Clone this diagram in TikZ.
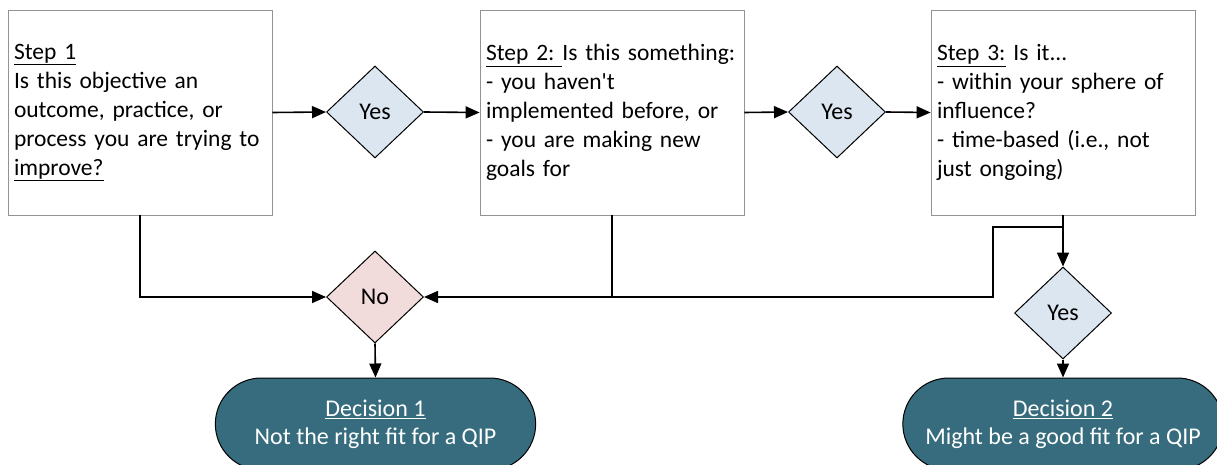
\documentclass[tikz,border=0pt]{standalone}
\usepackage{fontspec}
\setmainfont{Carlito}
\usetikzlibrary{shapes.geometric,shapes.misc,arrows.meta}
\definecolor{yesfill}{RGB}{220,230,240}
\definecolor{nofill}{RGB}{242,220,219}
\definecolor{decfill}{RGB}{54,108,125}

\begin{document}
\begin{tikzpicture}[x=1pt,y=-1pt,
stepbox/.style={draw=gray!85, fill=white, line width=0.8pt, text width=252pt, minimum height=205pt, inner sep=6pt, align=left, font=\fontsize{23.5}{29}\selectfont},
yesnode/.style={diamond, draw, line width=1pt, fill=yesfill, minimum width=97pt, minimum height=92pt, inner sep=0pt, font=\fontsize{24}{28}\selectfont},
nonode/.style={yesnode, fill=nofill},
decnode/.style={rounded rectangle, draw, line width=1pt, fill=decfill, text=white, minimum width=327pt, minimum height=92pt, align=center, font=\fontsize{24}{28}\selectfont},
line/.style={line width=1.6pt},
arrow/.style={line, -{Triangle[length=14pt,width=12pt]}},
]
\useasboundingbox (0,0) rectangle (1217,465);

%Nodes
\node[stepbox] (step1) at (140,112.5) {\underline{Step 1}\\Is this objective an\\outcome, practice, or\\process you are trying to\\\underline{improve?}};
\node[stepbox] (step2) at (612,112.5) {\underline{Step 2:\ }Is this something:\\- you haven\textquotesingle t\\implemented before, or\\- you are making new\\goals for};
\node[stepbox] (step3) at (1063,112.5) {\underline{Step 3:} Is it.{}.{}.\\- within your sphere of\\influence?\\- time-based (i.e., not\\just ongoing)};

\node[yesnode] (yes1) at (375,112) {Yes};
\node[yesnode] (yes2) at (837,112) {Yes};
\node[yesnode] (yes3) at (1063,313) {Yes};
\node[nonode]  (no)   at (375,297) {No};

\node[decnode] (dec1) at (375.5,424) {\underline{Decision 1}\\Not the right fit for a QIP};
\node[decnode] (dec2) at (1063,424) {\underline{Decision 2}\\Might be a good fit for a QIP};

\coordinate (split) at (1063,227);
\coordinate (bend)  at (993,297);

%Connectors
\draw[arrow] (step1.east) -- (yes1.west);
\draw[arrow] (yes1.east) -- (step2.west);
\draw[arrow] (step2.east) -- (yes2.west);
\draw[arrow] (yes2.east) -- (step3.west);

\draw[arrow] (step1.south) |- (no.west);
\draw[arrow] (step2.south) |- (no.east);
\draw[line] (split) -| (bend) -- (step2.south |- no.east);
\draw[arrow] (step3.south) -- (yes3.north);

\draw[arrow] (no.south) -- (dec1.north);
\draw[arrow] (yes3.south) -- (dec2.north);

\end{tikzpicture}
\end{document}
